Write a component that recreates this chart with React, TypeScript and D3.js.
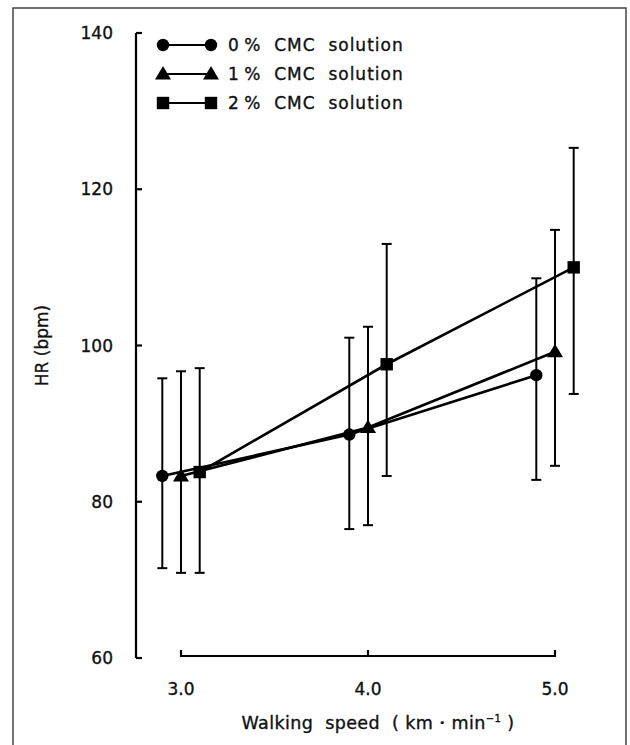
import React from "react";
import * as d3 from "d3";

const speeds = [3.0, 4.0, 5.0];
const offsets = [-0.1, 0, 0.1];
const seriesNames = ["0\u2009%  CMC  solution", "1\u2009%  CMC  solution", "2\u2009%  CMC  solution"];
const seriesShapes = ["circle", "triangle", "square"];
const meanHR = [
  [83.3, 88.6, 96.2],
  [83.3, 89.5, 99.2],
  [83.8, 97.6, 110.0],
];
const upperHR = [
  [95.8, 101.0, 108.6],
  [96.7, 102.4, 114.8],
  [97.1, 113.0, 125.3],
];
const lowerHR = [
  [71.5, 76.5, 82.8],
  [70.9, 77.0, 84.6],
  [70.9, 83.3, 93.8],
];
const yTicks = [60, 80, 100, 120, 140];
const xTickLabels = ["3.0", "4.0", "5.0"];

const W = 630;
const H = 745;
const FONT = "'DejaVu Sans', 'Liberation Sans', Arial, sans-serif";

function Marker({ shape, x, y }: { shape: string; x: number; y: number }) {
  if (shape === "circle") return <circle cx={x} cy={y} r={6.2} fill="#000" />;
  if (shape === "triangle") {
    const p = d3.path();
    p.moveTo(x, y - 8);
    p.lineTo(x + 8, y + 5.5);
    p.lineTo(x - 8, y + 5.5);
    p.closePath();
    return <path d={p.toString()} fill="#000" />;
  }
  return <rect x={x - 6.2} y={y - 6.2} width={12.4} height={12.4} fill="#000" />;
}

export default function App() {
  const x = d3.scaleLinear().domain([3, 5]).range([181, 555]);
  const y = d3.scaleLinear().domain([60, 140]).range([658, 33]);
  const line = d3
    .line<[number, number]>()
    .x((d) => x(d[0]))
    .y((d) => y(d[1]));
  const axisX = 136;
  const textStyle = { stroke: "#111", strokeWidth: 0.35 };

  return (
    <svg
      width={W}
      height={H}
      style={{ position: "absolute", left: 0, top: 0, background: "#fff" }}
      fontFamily={FONT}
      fill="#111"
    >
      <rect x={0} y={0} width={W} height={H} fill="#fff" />
      {/* frame */}
      <path d={`M13,${H} L13,8 L626,8 L626,${H}`} fill="none" stroke="#444" strokeWidth={1.5} />

      {/* y axis */}
      <line x1={axisX} x2={axisX} y1={y(140)} y2={y(60)} stroke="#000" strokeWidth={2.2} />
      {yTicks.map((t) => (
        <g key={t}>
          <line
            x1={axisX}
            x2={axisX + 6}
            y1={y(t)}
            y2={y(t)}
            stroke="#000"
            strokeWidth={2.2}
          />
          <text x={113} y={y(t)} dy="0.36em" textAnchor="end" fontSize={17} {...textStyle}>
            {t}
          </text>
        </g>
      ))}
      <text
        transform={`translate(42,${y(100)}) rotate(-90)`}
        textAnchor="middle"
        dy="0.36em"
        fontSize={17}
        {...textStyle}
      >
        HR (bpm)
      </text>

      {/* x axis */}
      <line x1={x(3)} x2={x(5)} y1={656} y2={656} stroke="#000" strokeWidth={2.2} />
      {speeds.map((s, i) => (
        <g key={s}>
          <line x1={x(s)} x2={x(s)} y1={657} y2={650} stroke="#000" strokeWidth={2.2} />
          <text x={x(s)} y={695} textAnchor="middle" fontSize={17} {...textStyle}>
            {xTickLabels[i]}
          </text>
        </g>
      ))}
      <text
        x={378}
        y={729}
        textAnchor="middle"
        fontSize={17.5}
        letterSpacing={0.4}
        style={{ whiteSpace: "pre" }}
        {...textStyle}
      >
        {"Walking  speed  ( km・min"}
        <tspan dy={-7} fontSize={10}>{"−1"}</tspan>
        <tspan dy={7}>{" )"}</tspan>
      </text>

      {/* error bars */}
      {meanHR.map((ser, si) =>
        ser.map((m, i) => {
          const px = x(speeds[i] + offsets[si]);
          return (
            <g key={`e${si}-${i}`} stroke="#000" strokeWidth={2}>
              <line x1={px} x2={px} y1={y(upperHR[si][i])} y2={y(lowerHR[si][i])} />
              <line x1={px - 5} x2={px + 5} y1={y(upperHR[si][i])} y2={y(upperHR[si][i])} />
              <line x1={px - 5} x2={px + 5} y1={y(lowerHR[si][i])} y2={y(lowerHR[si][i])} />
            </g>
          );
        })
      )}

      {/* lines */}
      {meanHR.map((ser, si) => (
        <path
          key={`l${si}`}
          d={line(ser.map((m, i) => [speeds[i] + offsets[si], m] as [number, number])) || ""}
          fill="none"
          stroke="#000"
          strokeWidth={2.6}
        />
      ))}
      {meanHR.map((ser, si) =>
        ser.map((m, i) => (
          <Marker
            key={`m${si}-${i}`}
            shape={seriesShapes[si]}
            x={x(speeds[i] + offsets[si])}
            y={y(m)}
          />
        ))
      )}

      {/* legend */}
      {seriesNames.map((name, i) => {
        const ly = 45 + i * 29;
        return (
          <g key={name}>
            <line x1={163} x2={211} y1={ly} y2={ly} stroke="#000" strokeWidth={1.8} />
            <Marker shape={seriesShapes[i]} x={163} y={ly} />
            <Marker shape={seriesShapes[i]} x={211} y={ly} />
            <text
              x={228}
              y={ly}
              dy="0.36em"
              fontSize={17}
              letterSpacing={1}
              style={{ whiteSpace: "pre" }}
              {...textStyle}
            >
              {name}
            </text>
          </g>
        );
      })}
    </svg>
  );
}
